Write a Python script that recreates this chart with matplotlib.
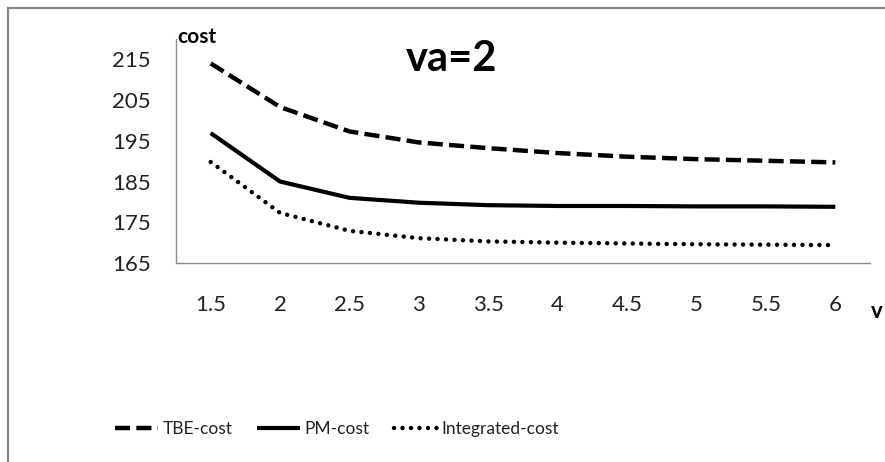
import matplotlib
matplotlib.use('Agg')
import matplotlib.pyplot as plt
from matplotlib.lines import Line2D
import numpy as np

# datos
v_cat = ['1.5', '2', '2.5', '3', '3.5', '4', '4.5', '5', '5.5', '6']
tbe_cost = [214.0, 203.3, 197.3, 194.6, 193.2, 192.0, 191.1, 190.5, 190.1, 189.7]
pm_cost = [196.9, 185.0, 181.0, 179.8, 179.2, 179.0, 179.0, 178.9, 178.9, 178.8]
integ_cost = [189.8, 177.3, 172.9, 171.1, 170.3, 170.0, 169.8, 169.6, 169.5, 169.4]
y_ticks = [165, 175, 185, 195, 205, 215]

plt.rcParams['font.family'] = ['Lato', 'DejaVu Sans']

fig = plt.figure(figsize=(8.85, 4.62), dpi=100)
ax = fig.add_axes([176/885, 1-263/462, (870-176)/885, (263-39)/462])

x = np.arange(len(v_cat))
ax.plot(x, tbe_cost, color='k', lw=3.2, dashes=(3.4, 1.4), label='TBE-cost')
ax.plot(x, pm_cost, color='k', lw=3.0, solid_capstyle='butt', label='PM-cost')
ax.plot(x, integ_cost, color='k', lw=3.2, dashes=(0.01, 1.9), dash_capstyle='round', label='Integrated-cost')

ax.set_xlim(-0.5, len(v_cat)-0.5)
ax.set_ylim(165, 220)
ax.set_xticks(x)
ax.set_xticklabels(v_cat)
ax.set_yticks(y_ticks)
ax.tick_params(axis='both', length=0, labelsize=16, labelcolor='#222222')
ax.tick_params(axis='x', pad=23)
ax.tick_params(axis='y', pad=18)
for s in ['top', 'right']:
    ax.spines[s].set_visible(False)
for s in ['left', 'bottom']:
    ax.spines[s].set_color('#8c8c8c')
    ax.spines[s].set_linewidth(1.0)

fig.text(177/885, 1-37/462, 'cost', fontsize=15, fontweight='bold', ha='left', va='center')
fig.text(452/885, 1-59/462, 'va=2', fontsize=30, fontweight='bold', ha='center', va='center')
fig.text(877/885, 1-312/462, 'v', fontsize=16, fontweight='bold', ha='center', va='center')

leg = fig.legend(loc='center', bbox_to_anchor=(337/885, 1-429/462), ncol=3, frameon=False,
                 fontsize=12.5, handlelength=2.5, handletextpad=0.25, columnspacing=1.4)
for t in leg.get_texts():
    t.set_color('#222222')

# borde de la figura (solo arriba e izquierda)
fig.add_artist(Line2D([8/885, 8/885], [0, 1-8/462], transform=fig.transFigure, color='#888888', lw=1.6))
fig.add_artist(Line2D([8/885, 1], [1-8/462, 1-8/462], transform=fig.transFigure, color='#888888', lw=1.6))

plt.savefig('out.png', dpi=100)
plt.close()
